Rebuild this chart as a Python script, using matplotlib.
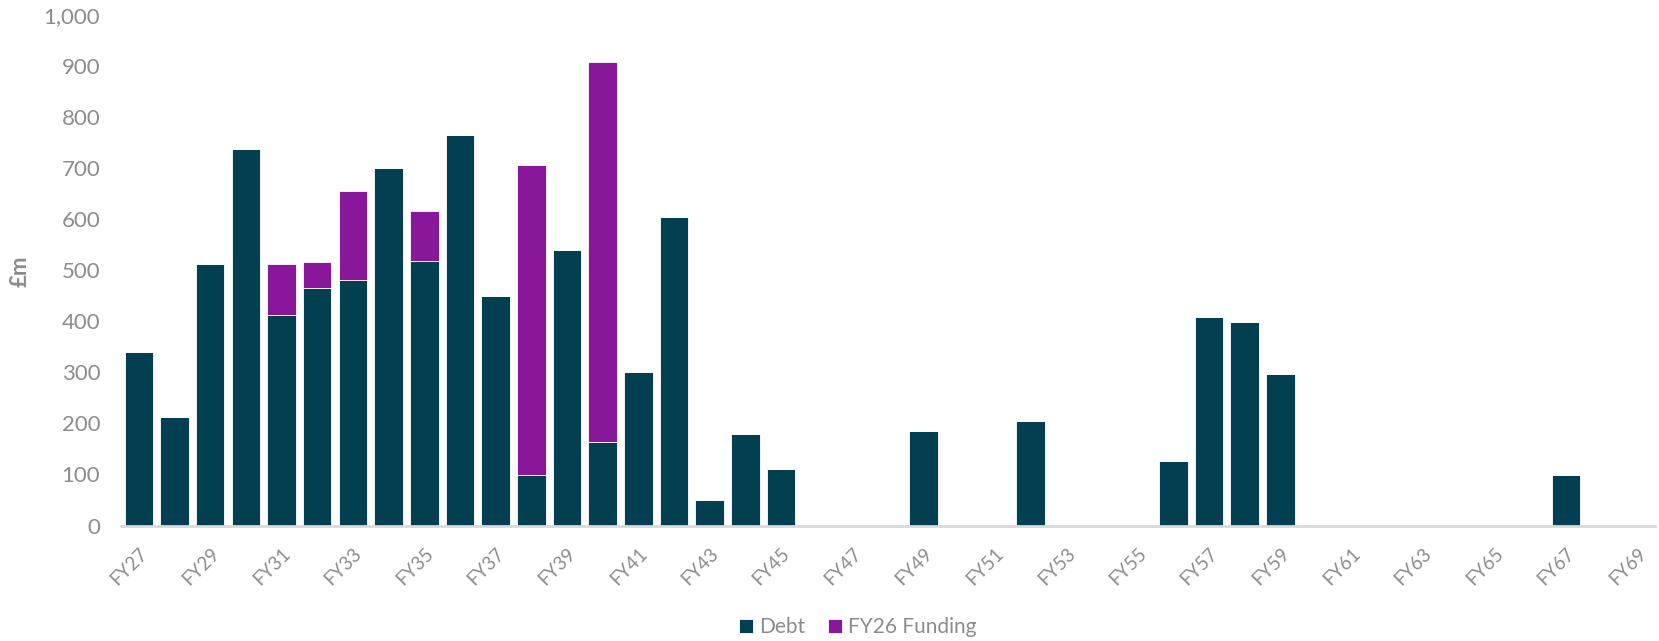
import matplotlib
matplotlib.use("Agg")
import matplotlib.pyplot as plt
import numpy as np

# Maturity profile by financial year (£m)
years = [f"FY{y}" for y in range(27, 70)]
debt = [340, 212, 513, 737, 412, 466, 481, 700, 519, 764, 450, 98, 540, 164,
        300, 605, 50, 180, 110, 0, 0, 0, 186, 0, 0, 205, 0, 0, 0, 127, 408, 399,
        297, 0, 0, 0, 0, 0, 0, 0, 99, 0, 0]
funding = [0, 0, 0, 0, 100, 50, 175, 0, 98, 0, 0, 609, 0, 743,
           0, 0, 0, 0, 0, 0, 0, 0, 0, 0, 0, 0, 0, 0, 0, 0, 0, 0,
           0, 0, 0, 0, 0, 0, 0, 0, 0, 0, 0]
series_names = ["Debt", "FY26 Funding"]

plt.rcParams["font.family"] = ["Lato", "DejaVu Sans"]
grey = "#8C8C8C"
c_debt = "#013F51"
c_fund = "#89179A"

W, H = 1659, 641
fig = plt.figure(figsize=(W / 100, H / 100), dpi=100)
ax = fig.add_axes([121 / W, 1 - 525.5 / H, 1534 / W, 510.5 / H])

x = np.arange(len(years))
ax.bar(x, debt, width=0.8, color=c_debt, edgecolor="white", linewidth=0.6,
       label=series_names[0], zorder=2)
ax.bar(x, funding, width=0.8, bottom=debt, color=c_fund, edgecolor="white",
       linewidth=0.6, label=series_names[1], zorder=2)

ax.set_xlim(-0.5, len(years) - 0.5)
ax.set_ylim(0, 1000)
ax.set_yticks(np.arange(0, 1001, 100))
ax.set_yticklabels([f"{v:,}" for v in range(0, 1001, 100)])
ax.set_xticks(x[::2])
ax.set_xticklabels(years[::2], rotation=45, ha="right", rotation_mode="anchor")

for s in ["top", "right", "left"]:
    ax.spines[s].set_visible(False)
ax.spines["bottom"].set_color("#D9D9D9")
ax.spines["bottom"].set_linewidth(2)
ax.spines["bottom"].set_zorder(3)
ax.tick_params(axis="both", length=0, colors=grey)
ax.tick_params(axis="y", pad=15, labelsize=16)
ax.tick_params(axis="x", pad=14, labelsize=13.5)

fig.text(20 / W, 1 - 271 / H, "£m", rotation=90, ha="center", va="center",
         color=grey, fontsize=16, fontweight="bold")

fig.legend(loc="center", bbox_to_anchor=(0.517, 0.022), ncol=2,
           frameon=False, fontsize=15, labelcolor=grey, handlelength=0.67,
           handleheight=0.67, handletextpad=0.3, columnspacing=1.1,
           borderpad=0)

fig.savefig("out.png", dpi=100)
